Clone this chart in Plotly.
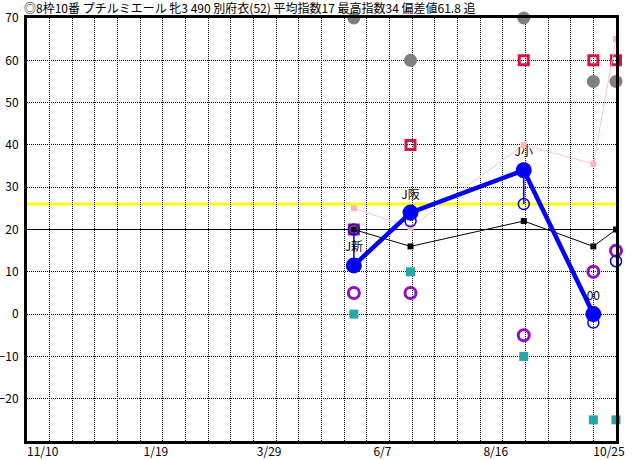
"""
出走馬指数チャート (Plotly 版)
"""
import plotly.graph_objects as go

# 出走日
race_dates = ["2020-05-16", "2020-06-20", "2020-08-29", "2020-10-11", "2020-10-25"]
race_labels = ["J新", "J阪", "J小", "00", ""]

# 各指数
main_index = [11.5, 24, 34, 0, None]
sub_index = [20, 22, 26, -2, 12.5]
black_index = [20, 16, 22, 16, 20]
pink_index = [25, 20.5, 40, 35.5, 65]
red_index = [20, 40, 60, 60, 60]
gray_index = [70, 60, 70, 55, 55]
teal_index = [0, 10, -10, -25, -25]
purple_index = [5, 5, -5, 10, 15]

deviation_level = 26
base_level = 20

# 軸
x_range = ["2019-10-27", "2020-10-25"]
tick_dates = ["2019-11-10", "2020-01-19", "2020-03-29", "2020-06-07", "2020-08-16", "2020-10-25"]
tick_labels = ["11/10", "1/19", "3/29", "6/7", "8/16", "10/25"]
y_ticks = [70, 60, 50, 40, 30, 20, 10, 0, -10, -20]

TITLE = "◎8枠10番 プチルミエール 牝3 490 別府衣(52) 平均指数17 最高指数34 偏差値61.8 追"
FONT = "Noto Sans CJK JP"
DOT = "1px,1px"

fig = go.Figure()

fig.add_trace(go.Scatter(
    x=race_dates, y=gray_index, mode="markers",
    marker=dict(symbol="circle", size=13, color="#808080"),
    cliponaxis=False,
))
fig.add_trace(go.Scatter(
    x=race_dates, y=red_index, mode="markers",
    marker=dict(symbol="square-open", size=9, color="#d81445", line=dict(width=3)),
    cliponaxis=False,
))
fig.add_trace(go.Scatter(
    x=race_dates, y=teal_index, mode="markers",
    marker=dict(symbol="square", size=9, color="#26a8a8"),
    cliponaxis=False,
))
fig.add_trace(go.Scatter(
    x=race_dates, y=purple_index, mode="markers",
    marker=dict(symbol="circle-open", size=11, color="#9010c8", line=dict(width=3)),
    cliponaxis=False,
))
fig.add_trace(go.Scatter(
    x=race_dates, y=pink_index, mode="lines+markers",
    line=dict(color="#ffc4d0", width=1),
    marker=dict(symbol="square", size=6, color="#ffb4c4"),
    cliponaxis=False,
))
fig.add_trace(go.Scatter(
    x=race_dates, y=black_index, mode="lines+markers",
    line=dict(color="black", width=1),
    marker=dict(symbol="square", size=6, color="black"),
    cliponaxis=False,
))
fig.add_trace(go.Scatter(
    x=race_dates, y=sub_index, mode="markers",
    marker=dict(symbol="circle-open", size=11, color="blue", line=dict(width=1.5)),
    cliponaxis=False,
))

# 指数と補助指数を結ぶ縦線
conn_x, conn_y = [], []
for d, a, b in zip(race_dates, main_index, sub_index):
    if a is None:
        continue
    conn_x += [d, d, None]
    conn_y += [a, b, None]
fig.add_trace(go.Scatter(
    x=conn_x, y=conn_y, mode="lines",
    line=dict(color="blue", width=1.5),
    cliponaxis=False,
))

fig.add_trace(go.Scatter(
    x=race_dates, y=main_index, mode="lines+markers+text",
    text=race_labels, textposition="top center",
    textfont=dict(family=FONT, size=12, color="black"),
    line=dict(color="blue", width=4.5),
    marker=dict(symbol="circle", size=16, color="blue"),
    cliponaxis=False,
))

fig.add_shape(type="line", xref="paper", x0=0, x1=1, yref="y",
              y0=deviation_level, y1=deviation_level,
              line=dict(color="#ffff00", width=3), layer="between")
fig.add_shape(type="line", xref="paper", x0=0, x1=1, yref="y",
              y0=base_level, y1=base_level,
              line=dict(color="black", width=1), layer="between")

# タイトル
fig.add_annotation(text=TITLE, xref="paper", x=0, xanchor="left", xshift=-4,
                   yref="paper", y=1, yanchor="top", yshift=20,
                   showarrow=False, borderpad=0,
                   font=dict(family=FONT, size=12, color="black"))

fig.update_layout(
    width=632, height=460,
    margin=dict(l=27, r=16, t=18, b=19),
    paper_bgcolor="white", plot_bgcolor="white",
    showlegend=False,
    font=dict(family=FONT, size=12, color="black"),
    xaxis=dict(
        type="date", range=x_range, automargin=False,
        tickvals=tick_dates, ticktext=tick_labels,
        ticks="", ticklabelshift=-7, ticklabelstandoff=-2,
        showgrid=True, gridcolor="black", gridwidth=1, griddash=DOT,
        minor=dict(dtick=14 * 86400000, tick0=x_range[0], showgrid=True,
                   gridcolor="black", gridwidth=1, griddash=DOT),
        showline=True, linecolor="black", linewidth=3, mirror=True,
        zeroline=False,
    ),
    yaxis=dict(
        range=[-30, 70], tickvals=y_ticks, automargin=False,
        ticks="", ticklabelstandoff=3,
        showgrid=True, gridcolor="black", gridwidth=1, griddash=DOT,
        showline=True, linecolor="black", linewidth=3, mirror=True,
        zeroline=False,
    ),
)

fig.write_html("out.html", config={"displayModeBar": False},
               post_script="document.body.style.margin='0';")
